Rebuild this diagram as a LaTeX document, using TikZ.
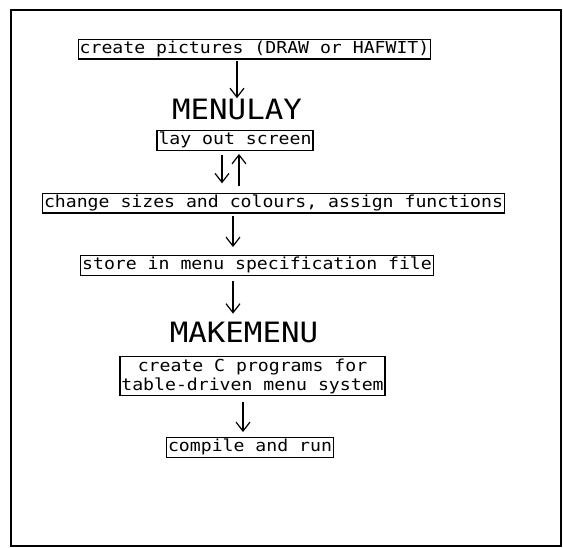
\documentclass[tikz,border=0pt]{standalone}
\usepackage{fontspec}
\usepackage{tikz}
\usetikzlibrary{arrows.meta}
\newfontfamily\plotfont[FakeStretch=1.1]{DejaVu Sans Mono}

\begin{document}
\begin{tikzpicture}[x=1pt, y=-1pt, line width=1.2pt,
    stage/.style={draw, line width=1.3pt, inner xsep=1.5pt, inner ysep=1.8pt, text height=12pt, text depth=4pt,
        font=\plotfont\fontsize{16.5}{19}\selectfont},
    tool/.style={inner sep=0pt, text height=20.5pt, text depth=0pt,
        font=\plotfont\fontsize{28}{30}\selectfont},
    flow/.style={-{Straight Barb[length=9pt,width=14pt]}}]
    \useasboundingbox (0,0) rectangle (563,548);
    \draw[line width=1.3pt] (11,10) rectangle (561,546);
        \node[stage] (pics) at (254.5,49.2) {create pictures (DRAW or HAFWIT)};
        \node[tool] (menulay) at (237,109) {MENULAY};
        \node[stage] (layout) at (235,140.5) {lay out screen};
        \node[stage] (change) at (273.5,203.3) {change sizes and colours, assign functions};
        \node[stage] (store) at (257,265.5) {store in menu specification file};
        \node[tool] (makemenu) at (244,332.5) {MAKEMENU};
        \node[stage, align=center, text height=, text depth=] (cprog) at (252.5,376)
            {create C programs for\\table-driven menu system};
        \node[stage] (run) at (250,447.5) {compile and run};
    \draw[flow, shorten <=1pt, shorten >=0pt] (pics.south -| menulay.center) -- (menulay.north);
    \draw[flow, shorten <=4pt, shorten >=9.5pt] ([xshift=-13pt]layout.south) -- ([xshift=-13pt]layout.south |- change.north);
    \draw[flow, shorten <=6.5pt, shorten >=3pt] ([xshift=4pt]layout.south |- change.north) -- ([xshift=4pt]layout.south);
    \draw[flow, shorten <=2pt, shorten >=8pt] ([xshift=-2pt]change.south -| layout.center) -- ([xshift=-2pt]store.north -| layout.center);
    \draw[flow, shorten <=5pt, shorten >=8pt] ([xshift=-2pt]store.south -| layout.center) -- ([xshift=-2pt]makemenu.north -| layout.center);
    \draw[flow, shorten <=6pt, shorten >=5pt] ([xshift=-1pt]cprog.south -| makemenu.center) -- ([xshift=-1pt]run.north -| makemenu.center);
\end{tikzpicture}
\end{document}
